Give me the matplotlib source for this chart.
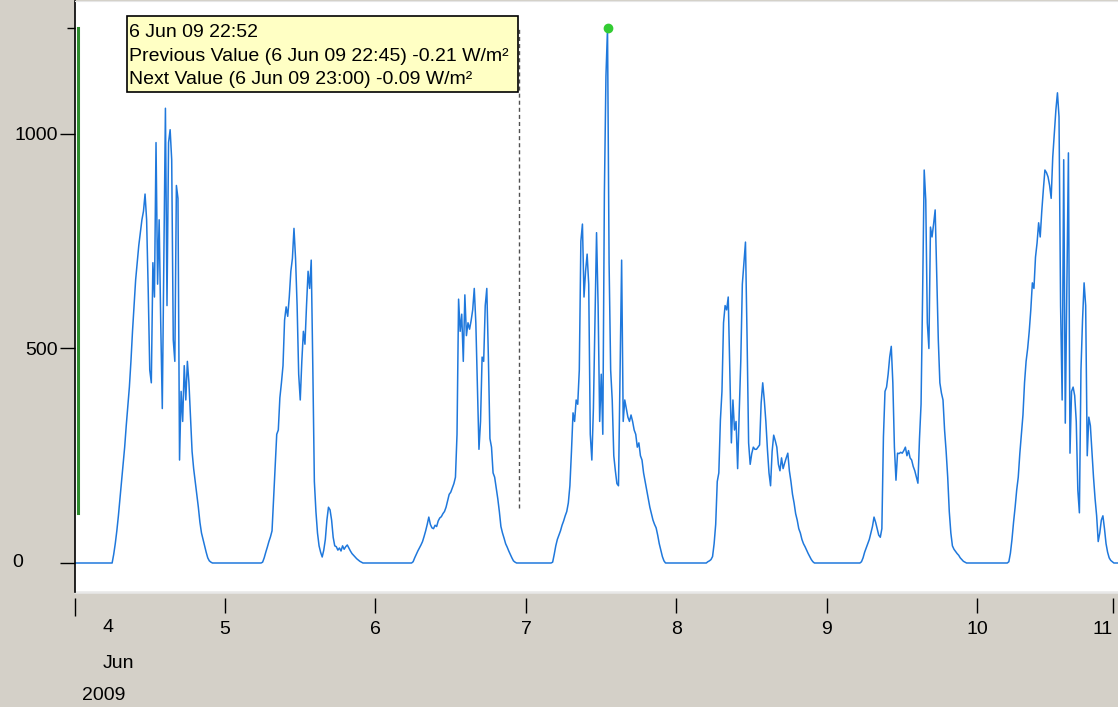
import numpy as np
import pandas as pd
import matplotlib
matplotlib.use('Agg')
import matplotlib.pyplot as plt
from matplotlib.patches import Rectangle

# 15 minute global radiation readings [W/m2], daylight part of each day.
# Night readings are ~0 and are left at zero.
start_jun04 = '2009-06-04 06:00'
jun04 = [0, 20, 45, 75, 110, 150, 190, 230, 270, 320, 365, 410, 470, 540, 600, 660,
         700, 740, 770, 800, 820, 860, 800, 640, 450, 420, 700, 620, 980, 650, 800, 560,
         360, 700, 1060, 600, 980, 1010, 940, 520, 470, 880, 850, 240, 400, 330, 460, 380,
         470, 420, 340, 260, 220, 190, 160, 130, 95, 70, 55, 40, 25, 12, 5, 2]

start_jun05 = '2009-06-05 06:00'
jun05 = [2, 12, 25, 37, 50, 61, 75, 150, 230, 300, 310, 385, 420, 460, 566, 597,
         575, 620, 680, 710, 780, 710, 600, 440, 380, 470, 540, 510, 600, 680, 640, 706,
         460, 190, 120, 70, 40, 25, 14, 30, 55, 100, 130, 124, 100, 60, 40, 38,
         30, 35, 28, 40, 32, 38, 42, 35, 28, 22, 18, 14, 10, 7, 4, 2]

start_jun06 = '2009-06-06 06:00'
jun06 = [3, 12, 20, 28, 35, 42, 50, 62, 75, 90, 107, 90, 82, 80, 88, 85,
         98, 105, 108, 115, 120, 130, 145, 160, 165, 175, 185, 200, 300, 615, 540, 580,
         470, 625, 530, 560, 545, 565, 590, 640, 560, 410, 265, 330, 480, 470, 600, 640,
         480, 290, 270, 210, 200, 175, 150, 120, 85, 70, 58, 45, 37, 28, 20, 12, 5, 2]

start_jun07 = '2009-06-07 04:15'
jun07 = [2, 20, 40, 55, 65, 75, 88, 98, 110, 120, 140, 180, 260, 350, 330, 380,
         370, 450, 750, 790, 620, 680, 720, 650, 300, 240, 360, 560, 770, 600, 330, 440,
         300, 862, 1135, 1247, 700, 450, 380, 250, 215, 185, 180, 450, 706, 330, 380, 360,
         340, 330, 345, 330, 310, 300, 270, 280, 250, 240, 210, 190, 170, 150, 130, 115,
         100, 90, 82, 65, 45, 30, 15, 5]

start_jun08 = '2009-06-08 05:00'
jun08 = [3, 5, 8, 15, 45, 90, 190, 210, 333, 400, 560, 600, 590, 620, 450, 280,
         380, 310, 330, 220, 350, 470, 650, 700, 748, 530, 280, 230, 255, 270, 265, 265,
         270, 275, 373, 420, 380, 330, 265, 210, 180, 260, 298, 285, 270, 230, 215, 245,
         220, 233, 245, 256, 215, 190, 160, 140, 115, 100, 80, 70, 55, 45, 38, 30,
         22, 15, 8, 3]

start_jun09 = '2009-06-09 05:30'
jun09 = [3, 12, 25, 35, 45, 55, 70, 85, 107, 95, 80, 65, 60, 80, 294, 400,
         410, 440, 480, 505, 420, 270, 193, 256, 255, 258, 256, 262, 270, 250, 262, 245,
         240, 225, 215, 200, 186, 290, 370, 629, 916, 846, 560, 500, 783, 760, 790, 823,
         667, 520, 420, 396, 380, 310, 260, 200, 120, 70, 40, 32, 27, 22, 18, 12,
         8, 4, 2]

start_jun10 = '2009-06-10 05:00'
jun10 = [3, 23, 55, 95, 130, 170, 200, 255, 300, 345, 420, 470, 500, 540, 590, 653,
         640, 713, 746, 793, 760, 820, 870, 916, 910, 900, 880, 850, 946, 1002, 1056, 1096,
         1040, 600, 380, 940, 326, 636, 956, 256, 400, 410, 390, 330, 170, 117, 450, 566,
         653, 600, 250, 340, 320, 260, 200, 150, 110, 50, 70, 100, 110, 80, 45, 25,
         12, 6, 3]

days = [(start_jun04, jun04), (start_jun05, jun05), (start_jun06, jun06),
        (start_jun07, jun07), (start_jun08, jun08), (start_jun09, jun09),
        (start_jun10, jun10)]

# cursor / tooltip
cursor_time = '2009-06-06 22:52'
cursor_low = 128
range_low = 117
tooltip_lines = ['6 Jun 09 22:52',
                 'Previous Value (6 Jun 09 22:45) -0.21 W/m²',
                 'Next Value (6 Jun 09 23:00) -0.09 W/m²']

day_ticks = ['2009-06-05', '2009-06-06', '2009-06-07', '2009-06-08',
             '2009-06-09', '2009-06-10', '2009-06-10 21:36']
day_labels = ['5', '6', '7', '8', '9', '10', '11']

times = pd.date_range('2009-06-04 00:00', '2009-06-11 00:00', freq='15min', inclusive='left')
radiation = pd.Series(0.0, index=times)
for start, vals in days:
    idx = pd.date_range(start, periods=len(vals), freq='15min')
    radiation.loc[idx] = vals

peak_time = radiation.idxmax()
peak = radiation.max()

W, H = 1118, 707
bg = '#D4D0C8'
plt.rcParams['font.family'] = ['Liberation Sans', 'DejaVu Sans']
plt.rcParams['font.size'] = 14

fig = plt.figure(figsize=(W / 100, H / 100), dpi=100, facecolor=bg)
ax = fig.add_axes([74.5 / W, 1 - 592 / H, (W - 74.5) / W, 591 / H])
ax.set_facecolor('white')

ax.plot(radiation.index, radiation.values, color='#1f78dc', lw=1.1)

# cursor line and selection markers
ax.plot([pd.Timestamp(cursor_time)] * 2, [cursor_low, peak], color='#505050',
        lw=1, dashes=(2.9, 2.2))
ax.plot([0.003, 0.003], [range_low, peak], transform=ax.get_yaxis_transform(),
        color='#2e8b2e', lw=2.2, clip_on=False)
ax.plot(peak_time, peak, 'o', color='#33cc33', ms=6, zorder=5)

x0 = pd.Timestamp('2009-06-04')
ax.set_xlim(x0, x0 + pd.Timedelta(days=6.9336))
ax.set_ylim(-67.6, 1310)

# spines
for s in ['right', 'bottom']:
    ax.spines[s].set_visible(False)
ax.spines['top'].set_color('#E6E6E6')
ax.spines['left'].set_color('black')
ax.spines['left'].set_linewidth(1.2)
ax.spines['bottom'].set_position(('outward', 4.3))
ax.plot([0, 1], [0, 0], transform=ax.transAxes, color='#E8E8E8', lw=1.8, clip_on=False)

# x ticks
ax.set_xticks([pd.Timestamp(t) for t in day_ticks])
ax.set_xticklabels(day_labels)
ax.set_xticks([x0], minor=True)
ax.tick_params(axis='x', which='major', direction='out', length=10.8, width=1,
               pad=5.5, colors='black')
ax.tick_params(axis='x', which='minor', direction='out', length=13, width=1)
# last label sits on the right edge; keep it inside the picture
last = ax.get_xticklabels()[-1]
last.set_horizontalalignment('right')

# y ticks
ax.set_yticks([0, 500, 1000])
ax.set_yticklabels(['', '500', '1000'])
ax.set_yticks([peak], minor=True)
ax.tick_params(axis='y', which='major', direction='out', length=10.8, width=1, pad=1.4)
ax.tick_params(axis='y', which='minor', direction='out', length=5.8, width=1, labelleft=False)
ax.text((18 - 74.5) / (W - 74.5), 0, '0', transform=ax.get_yaxis_transform(),
        ha='center', va='center')

# date labels under the first tick
fig.text(108 / W, 1 - 628 / H, '4', ha='center', va='center')
fig.text(118 / W, 1 - 663 / H, 'Jun', ha='center', va='center')
fig.text(104 / W, 1 - 695 / H, '2009', ha='center', va='center')

# tooltip
fig.patches.append(Rectangle((127 / W, 1 - 92 / H), 391 / W, 76 / H,
                             transform=fig.transFigure, facecolor='#FFFFC4',
                             edgecolor='black', lw=1.2, zorder=10))
for line, base in zip(tooltip_lines, [37, 61, 84]):
    fig.text(129 / W, 1 - base / H, line, ha='left', va='baseline', zorder=11)

fig.savefig('out.png', dpi=100, facecolor=bg)
